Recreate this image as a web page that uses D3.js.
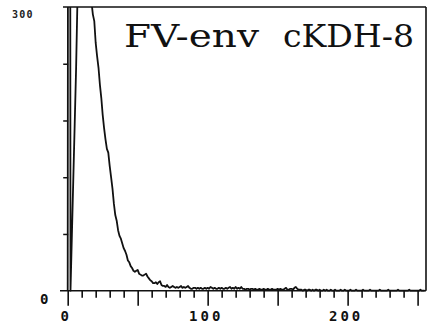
<!DOCTYPE html>
<html>
<head>
<meta charset="utf-8">
<script src="https://d3js.org/d3.v7.min.js"></script>
<style>
  body { margin: 0; background: #fff; }
  svg { display: block; }
</style>
</head>
<body>
<div id="chart"></div>
<script>
// histogram counts per channel (values > 300 run off scale)
var counts = [
  0, 2000, 0, 59, 118, 176, 235, 310, 420, 520,
  610, 640, 620, 580, 520, 450, 380, 305, 292, 285,
  262, 248, 236, 218, 204, 186, 172, 160, 150, 146,
  132, 120, 108, 92, 80, 74, 64, 58, 55, 50,
  45, 42, 38, 32, 30, 26, 24, 21, 20, 21,
  22, 18, 17, 16, 16, 17, 18, 15, 13, 11,
  10, 8, 8, 9, 7, 9, 10, 6, 5, 5,
  4, 6, 4, 3, 4, 5, 4, 3, 4, 3,
  4, 5, 3, 4, 3, 4, 5, 3, 2, 2,
  3, 3, 2, 3, 2, 3, 2, 2, 3, 2,
  3, 2, 4, 3, 2, 3, 2, 2, 3, 2,
  3, 2, 2, 3, 2, 3, 4, 2, 3, 2,
  4, 2, 3, 2, 4, 2, 2, 1, 2, 2,
  1, 2, 2, 1, 2, 1, 1, 2, 1, 1,
  2, 1, 1, 2, 1, 1, 2, 1, 1, 1,
  2, 1, 2, 1, 1, 2, 3, 1, 1, 2,
  2, 1, 3, 4, 2, 1, 1, 1, 0, 1,
  1, 0, 1, 1, 0, 1, 0, 1, 1, 0,
  1, 0, 0, 1, 0, 1, 0, 0, 1, 0,
  0, 1, 0, 0, 0, 1, 0, 0, 1, 0,
  0, 0, 1, 0, 0, 0, 1, 0, 0, 0,
  0, 1, 0, 0, 0, 0, 1, 0, 0, 0,
  0, 0, 0, 1, 0, 0, 0, 0, 0, 1,
  0, 0, 0, 0, 0, 0, 1, 0, 0, 0,
  0, 0, 0, 0, 1, 0, 0, 0, 0, 0,
  0, 0, 1, 0, 0, 0
];

var majorTicks = [0, 50, 100, 150, 200, 250];
var minorTicks = [10, 20, 30, 40, 60, 70, 80, 90, 110, 120, 130, 140,
                  160, 170, 180, 190, 210, 220, 230, 240];
var xLabels = [0, 100, 200];
var yTicks = [60, 120, 180, 240];
var yLabels = [0, 300];
var title = "FV-env cKDH-8";

var W = 432, H = 327;

var x = d3.scaleLinear().domain([0, 256]).range([67.7, 426]);
var y = d3.scaleLinear().domain([0, 300]).range([290.7, 7]);

var svg = d3.select("#chart").append("svg")
  .attr("width", W)
  .attr("height", H);

svg.append("defs").append("clipPath")
  .attr("id", "plotclip")
  .append("rect")
  .attr("x", x(0) - 2)
  .attr("y", y(300))
  .attr("width", x(256) - x(0) + 2)
  .attr("height", y(0) - y(300) + 2);

// frame: top and right
svg.append("line")
  .attr("x1", 63).attr("x2", x(256))
  .attr("y1", y(300)).attr("y2", y(300))
  .attr("stroke", "#111").attr("stroke-width", 1.6);
svg.append("line")
  .attr("x1", x(256)).attr("x2", x(256))
  .attr("y1", y(300)).attr("y2", y(0))
  .attr("stroke", "#111").attr("stroke-width", 1.6);

// baseline
svg.append("line")
  .attr("x1", 60).attr("x2", x(256))
  .attr("y1", y(0)).attr("y2", y(0))
  .attr("stroke", "#111").attr("stroke-width", 1.6);

// x axis, minor then major ticks
var gMinor = svg.append("g")
  .attr("transform", "translate(0," + y(0) + ")")
  .call(d3.axisBottom(x).tickValues(minorTicks).tickSize(7).tickFormat(""));
var gMajor = svg.append("g")
  .attr("transform", "translate(0," + y(0) + ")")
  .call(d3.axisBottom(x).tickValues(majorTicks).tickSize(15)
    .tickFormat(function(d) { return xLabels.indexOf(d) >= 0 ? d : ""; }));

[gMinor, gMajor].forEach(function(g) {
  g.select(".domain").remove();
  g.selectAll(".tick line").attr("stroke", "#111").attr("stroke-width", 1.6);
});
gMajor.selectAll(".tick text")
  .attr("y", 20)
  .attr("dy", "0.75em")
  .attr("dx", -2)
  .attr("fill", "#111")
  .style("font-family", "'DejaVu Sans Mono', monospace")
  .style("font-weight", "bold")
  .style("font-size", "14px")
  .style("letter-spacing", "3px");

// y axis ticks
var gY = svg.append("g")
  .attr("transform", "translate(" + (x(0) + 0.5) + ",0)")
  .call(d3.axisLeft(y).tickValues(yTicks).tickSize(5).tickFormat(""));
gY.select(".domain").remove();
gY.selectAll(".tick line").attr("stroke", "#111").attr("stroke-width", 1.5);

// y labels
svg.append("text")
  .attr("x", 12).attr("y", y(yLabels[1]) + 11)
  .attr("fill", "#222")
  .style("font-family", "'DejaVu Sans Mono', monospace")
  .style("font-weight", "bold")
  .style("font-size", "10px")
  .style("letter-spacing", "1.2px")
  .text(yLabels[1]);
svg.append("text")
  .attr("x", 40).attr("y", y(yLabels[0]) + 13)
  .attr("fill", "#111")
  .style("font-family", "'DejaVu Sans Mono', monospace")
  .style("font-weight", "bold")
  .style("font-size", "14px")
  .text(yLabels[0]);

// histogram trace
var line = d3.line()
  .x(function(d, i) { return x(i); })
  .y(function(d) { return y(d); });

svg.append("path")
  .datum(counts)
  .attr("clip-path", "url(#plotclip)")
  .attr("d", line)
  .attr("fill", "none")
  .attr("stroke", "#111")
  .attr("stroke-width", 1.8)
  .attr("stroke-linejoin", "round");

// title, two words with a wide gap like the plotter output
var words = title.split(" ");
var wordPos = [[124, 135], [283, 131]];
svg.selectAll("text.title")
  .data(words)
  .enter()
  .append("text")
  .attr("class", "title")
  .attr("x", function(d, i) { return wordPos[i][0]; })
  .attr("y", 47)
  .attr("textLength", function(d, i) { return wordPos[i][1]; })
  .attr("lengthAdjust", "spacingAndGlyphs")
  .attr("fill", "#111")
  .style("font-family", "'DejaVu Serif', serif")
  .style("font-size", "32px")
  .text(function(d) { return d; });
</script>
</body>
</html>
